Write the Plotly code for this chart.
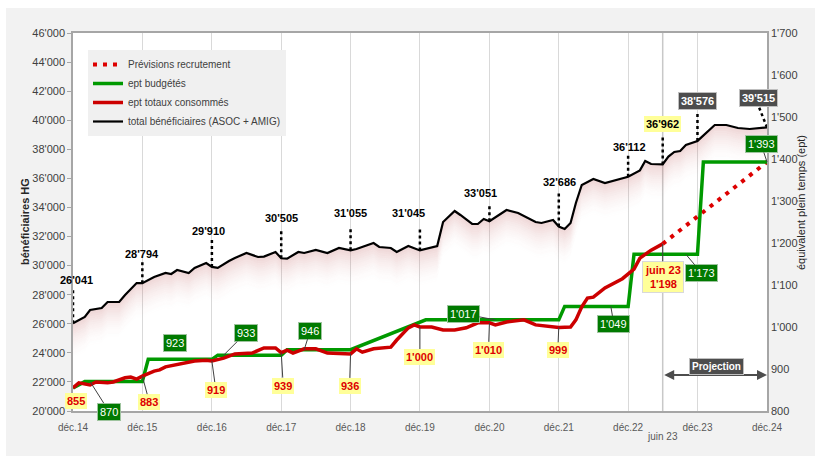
import plotly.graph_objects as go

# ---------------- DATA ----------------
benef_dates = ["2014-12-01", "2015-02-01", "2015-03-01", "2015-05-01", "2015-06-01", "2015-08-01",
               "2015-09-01", "2015-11-01", "2015-12-01", "2016-02-01", "2016-04-01", "2016-05-01",
               "2016-06-01", "2016-08-01", "2016-09-01", "2016-11-01", "2016-12-01", "2017-01-01",
               "2017-03-01", "2017-04-01", "2017-06-01", "2017-08-01", "2017-09-01", "2017-11-01",
               "2017-12-01", "2018-01-01", "2018-03-01", "2018-04-01", "2018-06-01", "2018-08-01",
               "2018-10-01", "2018-12-01", "2019-01-01", "2019-02-01", "2019-04-01", "2019-05-01",
               "2019-07-01", "2019-08-01", "2019-10-01", "2019-12-01", "2020-03-01", "2020-04-01",
               "2020-06-01", "2020-07-01", "2020-09-01", "2020-10-01", "2020-11-01", "2020-12-01",
               "2021-03-01", "2021-05-01", "2021-08-01", "2021-09-01", "2021-11-01", "2021-12-01",
               "2022-01-01", "2022-02-01", "2022-03-01", "2022-04-01", "2022-06-01", "2022-08-01",
               "2022-10-01", "2022-11-01", "2022-12-01", "2023-02-01", "2023-03-01", "2023-04-01",
               "2023-05-01", "2023-06-01", "2023-07-01", "2023-08-01", "2023-09-01", "2023-10-01",
               "2023-12-01", "2024-02-01", "2024-03-01", "2024-05-01", "2024-07-01", "2024-09-01",
               "2024-12-01"]
benef_vals = [26041, 26466, 26948, 27085, 27498, 27498,
              27980, 28805, 28794, 29218, 29493, 29424,
              29699, 29493, 29837, 30181, 29910, 29840,
              30318, 30524, 30868, 30593, 30620, 30937,
              30505, 30480, 30937, 30868, 31075, 30868,
              31212, 31055, 31144, 31281, 31556, 31281,
              31212, 30937, 31350, 31045, 31350, 33000,
              33757, 33482, 32863, 32863, 33207, 33051,
              33826, 33620, 32999, 32932, 33138, 32686,
              32519, 32932, 34307, 35545, 35958, 35683,
              35900, 36050, 36112, 36550, 37196, 36990,
              36960, 36962, 37500, 37815, 37884, 38297,
              38576, 39328, 39672, 39672, 39466, 39397,
              39515]

conso_dates = ["2014-12-01", "2015-01-01", "2015-03-01", "2015-04-01", "2015-06-01", "2015-07-01",
               "2015-09-01", "2015-10-01", "2015-11-01", "2015-12-01", "2016-02-01", "2016-03-01",
               "2016-04-01", "2016-06-01", "2016-07-01", "2016-09-01", "2016-11-01", "2016-12-01",
               "2017-02-01", "2017-03-01", "2017-04-01", "2017-07-01", "2017-08-01", "2017-09-01",
               "2017-11-01", "2017-12-01", "2018-01-01", "2018-02-01", "2018-04-01", "2018-06-01",
               "2018-08-01", "2018-10-01", "2018-12-01", "2019-01-01", "2019-02-01", "2019-04-01",
               "2019-07-01", "2019-08-01", "2019-10-01", "2019-11-01", "2019-12-01", "2020-02-01",
               "2020-04-01", "2020-06-01", "2020-08-01", "2020-10-01", "2020-12-01", "2021-01-01",
               "2021-03-01", "2021-06-01", "2021-08-01", "2021-12-01", "2022-02-01", "2022-03-01",
               "2022-04-01", "2022-05-01", "2022-06-01", "2022-08-01", "2022-10-01", "2022-11-01",
               "2023-01-01", "2023-02-01", "2023-04-01", "2023-06-01"]
conso_vals = [855, 867, 862, 869, 867, 869,
              879, 881, 876, 883, 895, 898,
              905, 910, 914, 919, 921, 919,
              926, 931, 936, 938, 945, 950,
              950, 939, 945, 938, 948, 948,
              938, 938, 936, 948, 940, 948,
              952, 969, 998, 1005, 1000, 1000,
              993, 993, 998, 1010, 1010, 1005,
              1012, 1017, 1005, 999, 1000, 1017,
              1048, 1069, 1071, 1093, 1107, 1115,
              1138, 1164, 1183, 1198]

prev_dates = ["2023-06-01", "2024-12-01"]
prev_vals = [1198, 1393]

budget_dates = ["2014-12-01", "2015-02-01", "2015-12-01", "2016-01-01", "2016-12-01", "2017-01-01",
                "2017-12-01", "2018-01-01", "2018-12-01", "2020-01-01", "2021-12-01", "2022-01-01",
                "2022-12-01", "2023-01-01", "2023-12-01", "2024-01-01", "2024-12-01"]
budget_vals = [855, 870, 870, 923, 923, 933,
               933, 946, 946, 1017, 1017, 1049,
               1049, 1173, 1173, 1393, 1393]

tick_dates = ["2014-12-01", "2015-12-01", "2016-12-01", "2017-12-01", "2018-12-01", "2019-12-01",
              "2020-12-01", "2021-12-01", "2022-12-01", "2023-12-01", "2024-12-01"]
tick_labels = ["déc.14", "déc.15", "déc.16", "déc.17", "déc.18", "déc.19",
               "déc.20", "déc.21", "déc.22", "déc.23", "déc.24"]

left_ticks = list(range(20000, 46001, 2000))
right_ticks = list(range(800, 1701, 100))

# labelled points
benef_lab_dates = ["2014-12-01", "2015-12-01", "2016-12-01", "2017-12-01", "2018-12-01", "2019-12-01",
                   "2020-12-01", "2021-12-01", "2022-12-01", "2023-06-01", "2023-12-01", "2024-12-01"]
benef_lab_vals = [26041, 28794, 29910, 30505, 31055, 31045, 33051, 32686, 36112, 36962, 38576, 39515]

conso_lab_dates = ["2014-12-01", "2015-12-01", "2016-12-01", "2017-12-01", "2018-12-01",
                   "2019-12-01", "2020-12-01", "2021-12-01", "2023-06-01"]
conso_lab_vals = [855, 883, 919, 939, 936, 1000, 1010, 999, 1198]

budget_lab_dates = ["2015-03-01", "2016-06-01", "2017-02-01", "2018-04-01", "2021-01-01",
                    "2022-09-01", "2023-10-01", "2024-12-01"]
budget_lab_vals = [870, 923, 933, 946, 1017, 1049, 1173, 1393]

# ---------------- STYLE / LAYOUT ----------------
W, H = 819, 458
L, R, T, B = 73, 52, 33, 47
PW, PH = W - L - R, H - T - B
FONT = "Liberation Sans, Arial, sans-serif"
RED = "#cc0000"
GREEN = "#009900"
GREEN_BOX = "#007a00"


def fmt(v):
    return f"{v:,}".replace(",", "'")


def px_x(p):
    return (p - L) / PW


def px_y(p):
    return (H - B - p) / PH


fig = go.Figure()

# gradient-like shading below the beneficiaries line
N_BANDS, DEPTH = 18, 2600
fig.add_trace(go.Scatter(x=benef_dates, y=benef_vals, mode="lines", line=dict(width=0),
                         showlegend=False, hoverinfo="skip", yaxis="y"))
for k in range(1, N_BANDS + 1):
    a = 0.26 * (1 - (k - 0.5) / N_BANDS) ** 1.8
    fig.add_trace(go.Scatter(x=benef_dates, y=[v - DEPTH * k / N_BANDS for v in benef_vals],
                             mode="lines", line=dict(width=0), fill="tonexty",
                             fillcolor=f"rgba(190,90,90,{a:.3f})",
                             showlegend=False, hoverinfo="skip", yaxis="y"))

fig.add_trace(go.Scatter(x=prev_dates, y=prev_vals, mode="lines", name="Prévisions recrutement",
                         line=dict(color="#dd0000", width=4, dash="4px,6px"), yaxis="y2"))
fig.add_trace(go.Scatter(x=budget_dates, y=budget_vals, mode="lines", name="ept budgétés",
                         line=dict(color=GREEN, width=3.5), yaxis="y2"))
fig.add_trace(go.Scatter(x=conso_dates, y=conso_vals, mode="lines", name="ept totaux consommés",
                         line=dict(color=RED, width=3.5), yaxis="y2"))
fig.add_trace(go.Scatter(x=benef_dates, y=benef_vals, mode="lines",
                         name="total bénéficiaires (ASOC + AMIG)",
                         line=dict(color="black", width=2.2), yaxis="y"))

shapes = [
    dict(type="rect", xref="paper", yref="paper", x0=px_x(6), x1=px_x(815), y0=px_y(456), y1=px_y(8),
         fillcolor="#f2f2f2", line=dict(width=0), layer="below"),
    dict(type="rect", xref="paper", yref="paper", x0=0, x1=1, y0=0, y1=1,
         fillcolor="white", line=dict(width=0), layer="below"),
    dict(type="line", xref="x", yref="paper", x0="2023-06-01", x1="2023-06-01", y0=0, y1=1,
         line=dict(color="#c8c8c8", width=1.5), layer="below"),
]

annotations = []

# beneficiaries labels: (xshift, yshift, dotted length, style)
benef_style = [(3, 43, 33, "w"), (0, 29, 21, "w"), (-3, 36, 27, "w"), (0, 40, 30, "w"),
               (0, 37, 23, "w"), (-11, 37, 24, "w"), (-9, 28, 16, "w"), (1, 45, 36, "w"),
               (1, 30, 22, "w"), (0, 40, 29, "y"), (0, 40, 28, "d"), (-9, 29, None, "d")]
for d, v, (xs, ys, dl, st) in zip(benef_lab_dates, benef_lab_vals, benef_style):
    if st == "w":
        bg, fc, bc = "white", "black", "rgba(0,0,0,0)"
    elif st == "y":
        bg, fc, bc = "#ffff99", "black", "rgba(0,0,0,0)"
    else:
        bg, fc, bc = "#4d4d4d", "white", "#bfbfbf"
    annotations.append(dict(x=d, y=v, xref="x", yref="y", text=f"<b>{fmt(v)}</b>", showarrow=False,
                            xshift=xs, yshift=ys, bgcolor=bg if st != "w" else None,
                            bordercolor=bc, borderwidth=1 if st == "d" else 0, borderpad=2,
                            font=dict(family=FONT, size=11, color=fc)))
    if dl is not None:
        shapes.append(dict(type="line", xref="x", yref="y", x0=d, x1=d, ysizemode="pixel", yanchor=v,
                           y0=0, y1=dl, line=dict(color="black", width=2.5, dash="dot"), layer="above"))
    else:
        shapes.append(dict(type="line", xref="x", yref="y", xsizemode="pixel", xanchor=d, x0=0, x1=-8,
                           ysizemode="pixel", yanchor=v, y0=0, y1=20,
                           line=dict(color="black", width=2.5, dash="dot"), layer="above"))

# consumption labels: (ax, ay) pixel offsets of the box centre
conso_style = [(3, 13, False), (7, 26, True), (4, 29, True), (2, 33, True), (-1, 32, True),
               (0, 30, True), (-1, 27, True), (-1, 23, True), (0, 33, True)]
for d, v, (ax, ay, arrow) in zip(conso_lab_dates, conso_lab_vals, conso_style):
    txt = f"<b>{fmt(v)}</b>" if d != "2023-06-01" else f"<b>juin 23<br>{fmt(v)}</b>"
    base = dict(x=d, y=v, xref="x", yref="y2", text=txt, bgcolor="#ffff99", borderpad=2,
                bordercolor="#d9d9d9" if d == "2023-06-01" else "rgba(0,0,0,0)",
                borderwidth=1 if d == "2023-06-01" else 0,
                font=dict(family=FONT, size=11, color="#dd0000"))
    if arrow:
        base.update(showarrow=True, ax=ax, ay=ay, arrowhead=0, arrowwidth=1, arrowcolor="#404040",
                    standoff=0)
    else:
        base.update(showarrow=False, xshift=ax, yshift=-ay)
    annotations.append(base)

# budget labels
budget_style = [(19, 30, True), (-2, -16, False), (22, -22, True), (6, -19, True), (-32, -6, True),
                (3, 18, True), (16, 19, True), (-6, -18, True)]
for d, v, (ax, ay, arrow) in zip(budget_lab_dates, budget_lab_vals, budget_style):
    base = dict(x=d, y=v, xref="x", yref="y2", text=fmt(v), bgcolor=GREEN_BOX, borderpad=2,
                bordercolor="#9fc49f", borderwidth=1,
                font=dict(family=FONT, size=11, color="white"))
    if arrow:
        base.update(showarrow=True, ax=ax, ay=ay, arrowhead=0, arrowwidth=1, arrowcolor="#404040",
                    standoff=0)
    else:
        base.update(showarrow=False, xshift=ax, yshift=-ay)
    annotations.append(base)

# projection arrow
annotations.append(dict(x="2024-12-01", y=px_y(375), xref="x", yref="y domain", ax="2023-06-01",
                        ay=px_y(375), axref="x", ayref="y domain", text="", showarrow=True,
                        arrowside="end+start", arrowhead=2, arrowsize=1, arrowwidth=2,
                        arrowcolor="#4d4d4d"))
annotations.append(dict(x="2024-03-08", y=px_y(375), xref="x", yref="paper",
                        text="<b>Projection</b>", showarrow=False, bgcolor="#4d4d4d",
                        bordercolor="#bfbfbf", borderwidth=1, borderpad=2,
                        font=dict(family=FONT, size=10, color="white")))

# extra x label
annotations.append(dict(x="2023-06-01", y=0, xref="x", yref="paper", yshift=-33, text="juin 23",
                        showarrow=False, font=dict(family=FONT, size=10, color="#595959")))

# axis titles
annotations.append(dict(x=px_x(17), y=0.5, xref="paper", yref="paper", text="<b>bénéficiaires HG</b>",
                        textangle=-90, showarrow=False, font=dict(family=FONT, size=11, color="#262626")))
annotations.append(dict(x=px_x(809), y=0.55, xref="paper", yref="paper",
                        text="équivalent plein temps (ept)", textangle=-90, showarrow=False,
                        font=dict(family=FONT, size=11, color="#262626")))

fig.update_layout(
    width=W, height=H, margin=dict(l=L, r=R, t=T, b=B, autoexpand=False),
    paper_bgcolor="white", plot_bgcolor="white",
    font=dict(family=FONT, size=11, color="#404040"),
    showlegend=True,
    legend=dict(x=px_x(88), y=px_y(50), xanchor="left", yanchor="top", bgcolor="#f0f0f0",
                traceorder="normal",
                font=dict(family=FONT, size=10, color="#404040"), itemwidth=30, tracegroupgap=0),
    xaxis=dict(type="date", range=["2014-12-01", "2024-12-01"], tickvals=tick_dates, ticktext=tick_labels,
               showgrid=True, gridcolor="#d9d9d9", gridwidth=1, showline=True, linecolor="#a6a6a6",
               linewidth=1.5, mirror=True, ticks="", ticklabelstandoff=6,
               tickfont=dict(family=FONT, size=10, color="#595959"), zeroline=False),
    yaxis=dict(range=[20000, 46000], tickvals=left_ticks, ticktext=[fmt(v) for v in left_ticks],
               showgrid=False, showline=True, linecolor="#a6a6a6", linewidth=1.5, ticks="outside",
               ticklen=4, tickcolor="#a6a6a6", tickfont=dict(family=FONT, size=11, color="#404040"),
               zeroline=False),
    yaxis2=dict(range=[800, 1700], tickvals=right_ticks, ticktext=[fmt(v) for v in right_ticks],
                overlaying="y", side="right", showgrid=False, showline=True, linecolor="#a6a6a6",
                linewidth=1.5, ticks="", tickfont=dict(family=FONT, size=11, color="#404040"),
                zeroline=False),
    shapes=shapes, annotations=annotations,
)

fig.write_html("out.html", config={"displayModeBar": False},
               post_script="document.body.style.margin='0';")
